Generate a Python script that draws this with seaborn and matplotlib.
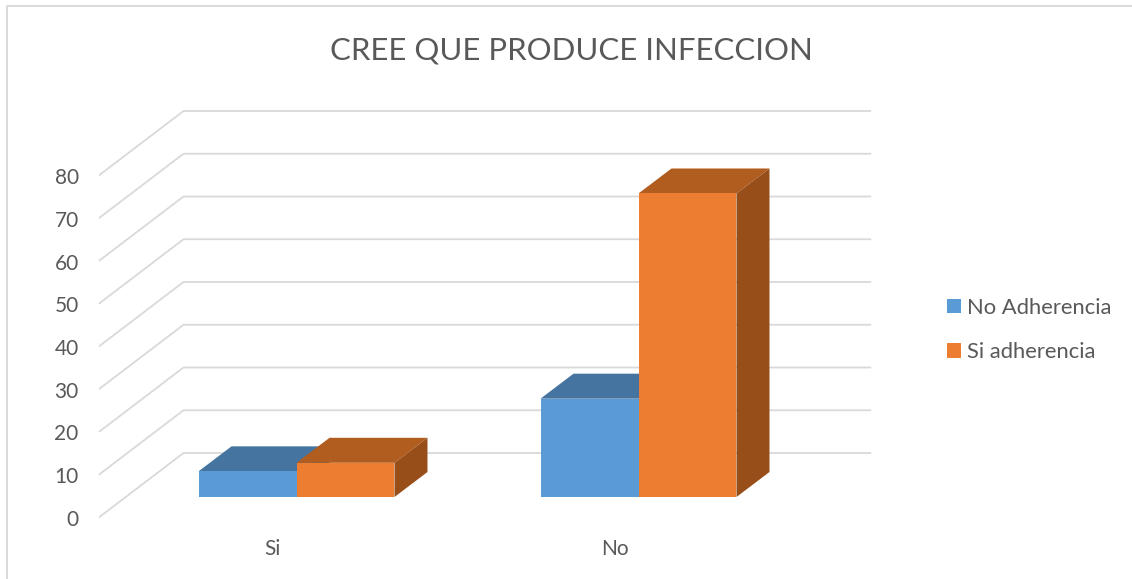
import matplotlib
matplotlib.use("Agg")
import matplotlib.pyplot as plt
import pandas as pd
import seaborn as sns
from matplotlib.lines import Line2D
from matplotlib.patches import Polygon
from matplotlib.transforms import Affine2D, IdentityTransform

categories = ["Si", "No"]
series_names = ["No Adherencia", "Si adherencia"]
no_adherencia = [6, 23]
si_adherencia = [8, 71]
y_ticks = [0, 10, 20, 30, 40, 50, 60, 70, 80]

front_colors = ["#5B9BD5", "#ED7D31"]
top_colors = ["#44749F", "#B25D20"]
side_colors = ["#3F6C94", "#984E19"]
grid_color = "#D9D9D9"
text_color = "#595959"

# pixel offsets of the fake 3D box, relative to the plane the bars stand on
BACK = (58, 44)
FRONT = (-26, -20)
DEPTH = (33, 25)

sns.set_theme(style="white")
plt.rcParams["font.family"] = ["Lato", "DejaVu Sans"]

df = pd.DataFrame({
    "cat": categories * 2,
    "serie": [series_names[0]] * 2 + [series_names[1]] * 2,
    "valor": no_adherencia + si_adherencia,
})

W, H = 1132, 579
fig = plt.figure(figsize=(W / 100, H / 100), dpi=100)
ax = fig.add_axes([125.5 / W, (H - 497) / H, 684 / W, 342 / H])
sns.barplot(data=df, x="cat", y="valor", hue="serie", palette=front_colors,
            width=0.573, gap=0, saturation=1, linewidth=0, ax=ax, zorder=3, legend=True)
ax.set_xlim(-0.5, 1.5)
ax.set_ylim(0, 80)
ax.set_xlabel("")
ax.set_ylabel("")
ax.patch.set_visible(False)
sns.despine(ax=ax, left=True, bottom=True)

# back wall and side wall gridlines
for v in y_ticks:
    x0, y0 = ax.transData.transform((-0.5, v))
    x1, _ = ax.transData.transform((1.5, v))
    ax.plot([x0 + FRONT[0], x0 + BACK[0], x1 + BACK[0] + 3],
            [y0 + FRONT[1], y0 + BACK[1], y0 + BACK[1]],
            color=grid_color, lw=1.3, transform=IdentityTransform(),
            clip_on=False, zorder=1)

# top and side faces, worked out from the bars seaborn drew
for s, cont in enumerate(ax.containers):
    for bar in cont:
        (xa, ya) = ax.transData.transform((bar.get_x(), 0))
        (xb, yb) = ax.transData.transform((bar.get_x() + bar.get_width(), bar.get_height()))
        dx, dy = DEPTH
        ax.add_patch(Polygon([(xa, yb), (xb, yb), (xb + dx, yb + dy), (xa + dx, yb + dy)],
                             closed=True, fc=top_colors[s], ec="none",
                             transform=IdentityTransform(), clip_on=False, zorder=2 + s * 0.1))
        ax.add_patch(Polygon([(xb, ya), (xb + dx, ya + dy), (xb + dx, yb + dy), (xb, yb)],
                             closed=True, fc=side_colors[s], ec="none",
                             transform=IdentityTransform(), clip_on=False, zorder=2 + s * 0.1))

ax.set_yticks(y_ticks)
ax.set_yticklabels([str(v) for v in y_ticks])
ax.tick_params(axis="y", length=0, pad=15, labelsize=15, labelcolor=text_color)
ax.tick_params(axis="x", length=0, pad=30, labelsize=15, labelcolor=text_color)
for lab in ax.get_yticklabels():
    lab.set_transform(lab.get_transform() + Affine2D().translate(FRONT[0], FRONT[1] - 1))
for lab in ax.get_xticklabels():
    lab.set_transform(lab.get_transform() + Affine2D().translate(FRONT[0] + 2, 0))

fig.text(571.5 / W, (H - 50) / H, "CREE QUE PRODUCE INFECCION", ha="center", va="center",
         fontsize=22.4, color=text_color)

handles, labels = ax.get_legend_handles_labels()
ax.legend(handles, labels, loc="center left", bbox_to_anchor=(947 / W, (H - 330) / H),
          bbox_transform=fig.transFigure, frameon=False, fontsize=15.8,
          labelcolor=text_color, handlelength=0.64, handleheight=0.64,
          handletextpad=0.27, labelspacing=1.1, borderpad=0, borderaxespad=0)

# chart frame: only the top and left edges show in the reference
fig.add_artist(Line2D([6.5 / W, 6.5 / W, 1], [0, (H - 6) / H, (H - 6) / H], color=grid_color,
                      lw=1.4, transform=fig.transFigure))

fig.savefig("out.png", dpi=100)
